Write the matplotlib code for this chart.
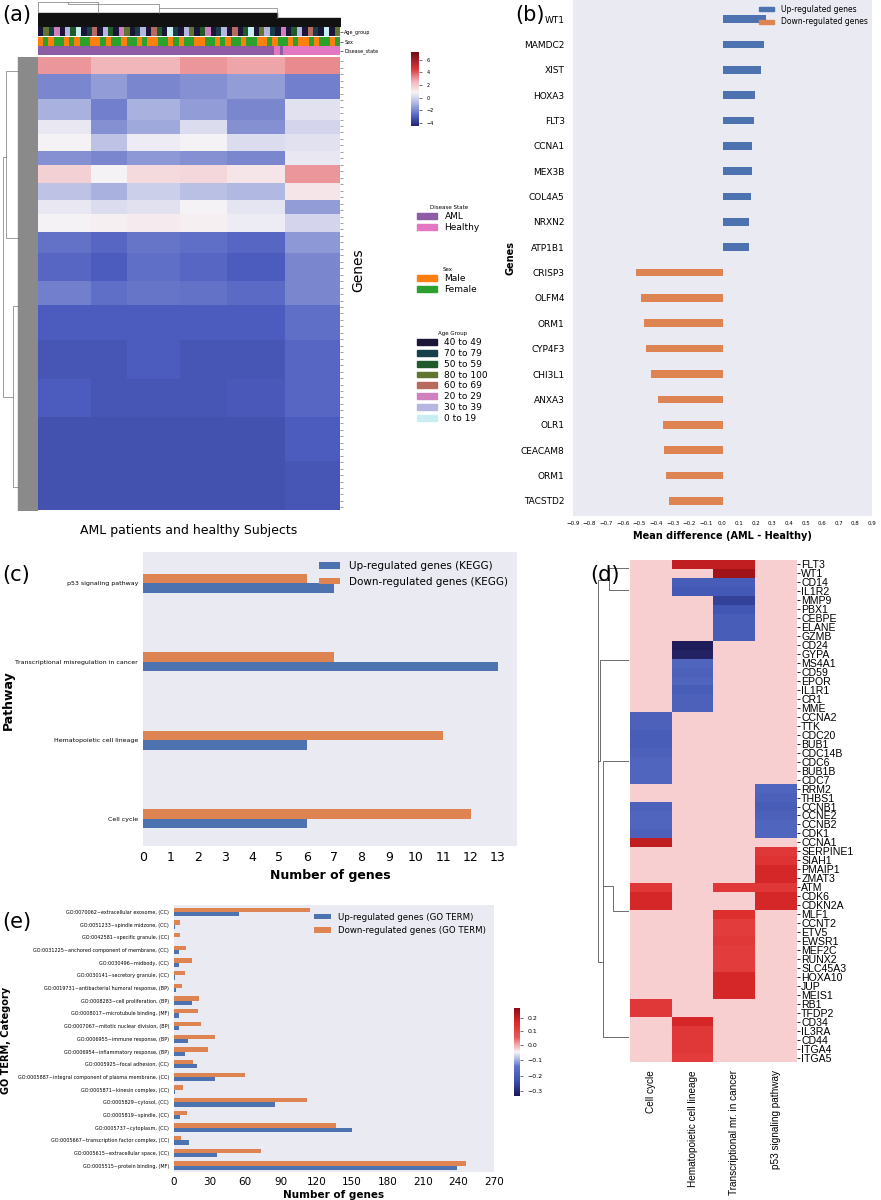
import numpy as np
import matplotlib
matplotlib.use("Agg")
import matplotlib.pyplot as plt
from matplotlib.colors import ListedColormap, TwoSlopeNorm, LinearSegmentedColormap, Normalize
from matplotlib.patches import Patch

W, H = 881, 1200
BLUE = "#4C72B0"
ORANGE = "#DD8452"
BG = "#EAEAF2"

# ----- panel (a) data: coarse block estimate of the clustered heatmap -----
# rows = gene bands (top -> bottom), cols = sample groups (5 AML groups, 1 healthy group)
a_blocks = [
    [3.0, 2.5, 2.5, 3.0, 2.8, 3.2],
    [-2.0, -1.5, -2.0, -1.8, -1.5, -2.2],
    [-1.0, -2.2, -1.0, -1.5, -2.0, 0.3],
    [0.5, -1.8, -1.2, 0.2, -1.8, 0.0],
    [0.8, -0.5, 0.6, 0.8, 0.2, 0.3],
    [-1.8, -2.0, -1.6, -1.8, -2.0, 0.5],
    [1.8, 0.8, 1.5, 1.6, 1.2, 3.0],
    [-0.5, -1.0, -0.2, -0.6, -0.8, 1.2],
    [0.5, 0.2, 0.3, 0.8, 0.4, -1.5],
    [0.8, 0.9, 1.0, 0.9, 0.6, 0.0],
    [-2.5, -2.8, -2.4, -2.6, -2.8, -1.6],
    [-2.8, -3.0, -2.6, -2.8, -3.0, -2.0],
    [-2.2, -2.6, -2.4, -2.5, -2.7, -2.0],
    [-3.0, -3.0, -3.0, -3.0, -3.0, -2.6],
    [-3.2, -3.2, -3.0, -3.2, -3.2, -2.8],
    [-3.0, -3.2, -3.2, -3.2, -3.1, -2.8],
    [-3.3, -3.3, -3.3, -3.3, -3.3, -3.0],
    [-3.3, -3.3, -3.3, -3.3, -3.3, -3.2],
]
a_band_heights = [10, 14, 12, 8, 10, 8, 10, 10, 8, 10, 12, 16, 14, 20, 22, 22, 25, 28]
a_group_widths = [20, 14, 20, 18, 22, 21]

sex_pattern = list("MFMFFMFMFFMMFMFFMFFMFMMFFMFMFFMMFFMFMFFMFFMMFMFFMFMMFMFFMF")
age_pattern = [0, 3, 1, 5, 0, 6, 2, 7, 0, 1, 4, 0, 6, 2, 0, 5, 3, 0, 1, 6, 0, 4, 2, 0, 7, 1, 0, 6,
               3, 0, 2, 5, 0, 1, 6, 0, 4, 0, 2, 7, 0, 3, 6, 1, 0, 5, 0, 2, 6, 0, 4, 1, 0, 7, 0, 3]
disease_pattern = [0] * 78 + [1, 1, 0, 1, 1, 1, 1, 1, 1, 1, 1, 1, 1, 1, 1, 1, 1, 1, 1, 1, 1, 1]

age_labels = ["40 to 49", "70 to 79", "50 to 59", "80 to 100", "60 to 69", "20 to 29", "30 to 39", "0 to 19"]
age_colors = ["#1b1538", "#173f4a", "#1e5a2a", "#5f7530", "#b86a5e", "#cf80bf", "#b5b7e0", "#c8eef2"]
sex_labels = ["Male", "Female"]
sex_colors = ["#FF7F0E", "#2CA02C"]
disease_labels = ["AML", "Healthy"]
disease_colors = ["#8E5BA6", "#E377C2"]

# ----- panel (b) data -----
b_genes = ["WT1", "MAMDC2", "XIST", "HOXA3", "FLT3", "CCNA1", "MEX3B", "COL4A5", "NRXN2", "ATP1B1",
           "CRISP3", "OLFM4", "ORM1", "CYP4F3", "CHI3L1", "ANXA3", "OLR1", "CEACAM8", "ORM1", "TACSTD2"]
b_values = [0.26, 0.25, 0.23, 0.195, 0.19, 0.18, 0.175, 0.17, 0.16, 0.16,
            -0.52, -0.49, -0.47, -0.46, -0.43, -0.39, -0.36, -0.35, -0.34, -0.32]

# ----- panel (c) data -----
c_pathways = ["Cell cycle", "Hematopoietic cell lineage", "Transcriptional misregulation in cancer", "p53 signaling pathway"]
c_up = [6, 6, 13, 7]
c_down = [12, 11, 7, 6]

# ----- panel (d) data -----
d_genes = ["FLT3", "WT1", "CD14", "IL1R2", "MMP9", "PBX1", "CEBPE", "ELANE", "GZMB", "CD24", "GYPA",
           "MS4A1", "CD59", "EPOR", "IL1R1", "CR1", "MME", "CCNA2", "TTK", "CDC20", "BUB1", "CDC14B",
           "CDC6", "BUB1B", "CDC7", "RRM2", "THBS1", "CCNB1", "CCNE2", "CCNB2", "CDK1", "CCNA1",
           "SERPINE1", "SIAH1", "PMAIP1", "ZMAT3", "ATM", "CDK6", "CDKN2A", "MLF1", "CCNT2", "ETV5",
           "EWSR1", "MEF2C", "RUNX2", "SLC45A3", "HOXA10", "JUP", "MEIS1", "RB1", "TFDP2", "CD34",
           "IL3RA", "CD44", "ITGA4", "ITGA5"]
d_pathways = ["Cell cycle", "Hematopoietic cell lineage", "Transcriptional mr. in cancer", "p53 signaling pathway"]
# values per gene: (cell cycle, hematopoietic, transcriptional, p53); None = not in pathway
d_values = {
    "FLT3": (None, 0.2, 0.2, None), "WT1": (None, None, 0.24, None),
    "CD14": (None, -0.2, -0.2, None), "IL1R2": (None, -0.21, -0.21, None),
    "MMP9": (None, None, -0.26, None), "PBX1": (None, None, -0.22, None),
    "CEBPE": (None, None, -0.2, None), "ELANE": (None, None, -0.2, None),
    "GZMB": (None, None, -0.2, None), "CD24": (None, -0.32, None, None),
    "GYPA": (None, -0.31, None, None), "MS4A1": (None, -0.18, None, None),
    "CD59": (None, -0.19, None, None), "EPOR": (None, -0.18, None, None),
    "IL1R1": (None, -0.2, None, None), "CR1": (None, -0.19, None, None),
    "MME": (None, -0.19, None, None), "CCNA2": (-0.19, None, None, None),
    "TTK": (-0.19, None, None, None), "CDC20": (-0.2, None, None, None),
    "BUB1": (-0.2, None, None, None), "CDC14B": (-0.19, None, None, None),
    "CDC6": (-0.18, None, None, None), "BUB1B": (-0.18, None, None, None),
    "CDC7": (-0.18, None, None, None), "RRM2": (None, None, None, -0.18),
    "THBS1": (None, None, None, -0.19), "CCNB1": (-0.19, None, None, -0.2),
    "CCNE2": (-0.18, None, None, -0.19), "CCNB2": (-0.18, None, None, -0.18),
    "CDK1": (-0.19, None, None, -0.18), "CCNA1": (0.2, None, None, None),
    "SERPINE1": (None, None, None, 0.13), "SIAH1": (None, None, None, 0.14),
    "PMAIP1": (None, None, None, 0.17), "ZMAT3": (None, None, None, 0.17),
    "ATM": (0.13, None, 0.13, 0.13), "CDK6": (0.17, None, None, 0.17),
    "CDKN2A": (0.17, None, None, 0.17), "MLF1": (None, None, 0.15, None),
    "CCNT2": (None, None, 0.12, None), "ETV5": (None, None, 0.12, None),
    "EWSR1": (None, None, 0.13, None), "MEF2C": (None, None, 0.12, None),
    "RUNX2": (None, None, 0.12, None), "SLC45A3": (None, None, 0.12, None),
    "HOXA10": (None, None, 0.17, None), "JUP": (None, None, 0.17, None),
    "MEIS1": (None, None, 0.17, None), "RB1": (0.13, None, None, None),
    "TFDP2": (0.13, None, None, None), "CD34": (None, 0.17, None, None),
    "IL3RA": (None, 0.13, None, None), "CD44": (None, 0.13, None, None),
    "ITGA4": (None, 0.13, None, None), "ITGA5": (None, 0.12, None, None),
}

# ----- panel (e) data (bottom -> top) -----
e_terms = ["GO:0005515~protein binding, (MF)", "GO:0005615~extracellular space, (CC)",
           "GO:0005667~transcription factor complex, (CC)", "GO:0005737~cytoplasm, (CC)",
           "GO:0005819~spindle, (CC)", "GO:0005829~cytosol, (CC)", "GO:0005871~kinesin complex, (CC)",
           "GO:0005887~integral component of plasma membrane, (CC)", "GO:0005925~focal adhesion, (CC)",
           "GO:0006954~inflammatory response, (BP)", "GO:0006955~immune response, (BP)",
           "GO:0007067~mitotic nuclear division, (BP)", "GO:0008017~microtubule binding, (MF)",
           "GO:0008283~cell proliferation, (BP)", "GO:0019731~antibacterial humoral response, (BP)",
           "GO:0030141~secretory granule, (CC)", "GO:0030496~midbody, (CC)",
           "GO:0031225~anchored component of membrane, (CC)", "GO:0042581~specific granule, (CC)",
           "GO:0051233~spindle midzone, (CC)", "GO:0070062~extracellular exosome, (CC)"]
e_up = [239, 36, 13, 150, 5, 85, 0.5, 35, 19, 9, 12, 4, 4, 15, 2, 1, 4, 4, 0, 0.5, 55]
e_down = [246, 73, 6, 137, 11, 112, 8, 60, 16, 29, 35, 23, 20, 21, 7, 9, 15, 10, 5, 5, 115]

fig = plt.figure(figsize=(W / 100, H / 100), dpi=100)


def ax_px(x0, y0, x1, y1):
    return fig.add_axes([x0 / W, 1 - y1 / H, (x1 - x0) / W, (y1 - y0) / H])


def plabel(x, y, s):
    fig.text(x / W, 1 - y / H, s, fontsize=15, va="center", ha="left")


# ===== (a) =====
a_vmin, a_vmax = -4.5, 7.2
a_nodes = [(-4.5, "#1e2470"), (-3.0, "#4e5ec0"), (-1.0, "#aab2e0"), (0.8, "#f6f3f6"),
           (2.5, "#f2b8bc"), (4.5, "#d9383c"), (7.2, "#6e0b15")]
heat_cmap = LinearSegmentedColormap.from_list(
    "a", [((v - a_vmin) / (a_vmax - a_vmin), c) for v, c in a_nodes])
heat_norm = Normalize(vmin=a_vmin, vmax=a_vmax)
rows = np.repeat(np.arange(len(a_blocks)), a_band_heights)
cols = np.repeat(np.arange(len(a_group_widths)), a_group_widths)
a_mat = np.array(a_blocks)[rows][:, cols]
ax_a = ax_px(38, 57, 340, 510)
ax_a.imshow(a_mat, aspect="auto", cmap=heat_cmap, norm=heat_norm, interpolation="nearest")
ax_a.set_xticks([])
ax_a.yaxis.tick_right()
ax_a.set_yticks(np.linspace(2, a_mat.shape[0] - 2, 70))
ax_a.set_yticklabels([])
ax_a.tick_params(axis="y", length=2, width=0.4, color="#555")
for s in ax_a.spines.values():
    s.set_visible(False)
ax_a.set_xlabel("AML patients and healthy Subjects", fontsize=9, labelpad=10)
fig.text(358 / W, 1 - 270 / H, "Genes", rotation=90, fontsize=10, va="center", ha="center")

# column annotations
ann = [("Age_group", age_pattern, age_colors, 27, 36),
       ("Sex", [0 if s == "M" else 1 for s in sex_pattern], sex_colors, 37, 46),
       ("Disease_state", disease_pattern, disease_colors, 46, 55)]
for name, pattern, colors, y0, y1 in ann:
    axn = ax_px(38, y0, 340, y1)
    axn.imshow(np.array(pattern)[None, :], aspect="auto", cmap=ListedColormap(colors),
               vmin=-0.5, vmax=len(colors) - 0.5, interpolation="nearest")
    axn.set_xticks([])
    axn.set_yticks([0])
    axn.set_yticklabels([name], fontsize=3.5)
    axn.yaxis.tick_right()
    axn.tick_params(axis="y", length=2, width=0.4, pad=1)
    for s in axn.spines.values():
        s.set_visible(False)

# top dendrogram (schematic)
ax_td = ax_px(38, 2, 340, 26)
ax_td.fill_between([0, 0.79], [0, 0], [0.55, 0.55], color="#111")
ax_td.fill_between([0.79, 1.0], [0, 0], [0.35, 0.35], color="#111")
ax_td.plot([0.0, 0.0, 0.2, 0.2], [0.55, 1.0, 1.0, 0.55], color="#777", lw=0.5)
ax_td.plot([0.1, 0.1, 0.4, 0.4], [1.0, 0.92, 0.92, 0.55], color="#777", lw=0.5)
ax_td.plot([0.4, 0.4, 0.79, 0.79], [0.75, 0.75, 0.75, 0.35], color="#777", lw=0.5)
ax_td.set_xlim(0, 1)
ax_td.set_ylim(0, 1)
ax_td.axis("off")

# row dendrogram (schematic)
ax_rd = ax_px(2, 57, 37, 510)
ax_rd.fill_betweenx([0, 1], [0.45, 0.45], [1, 1], color="#8a8a8a")
ax_rd.plot([0.45, 0.1, 0.1, 0.45], [0.97, 0.97, 0.6, 0.6], color="#777", lw=0.5)
ax_rd.plot([0.1, 0.02, 0.02, 0.3, 0.3, 0.45], [0.78, 0.78, 0.25, 0.25, 0.45, 0.45], color="#777", lw=0.5)
ax_rd.plot([0.3, 0.3, 0.45], [0.25, 0.05, 0.05], color="#777", lw=0.5)
ax_rd.set_xlim(0, 1)
ax_rd.set_ylim(0, 1)
ax_rd.axis("off")

# colorbar (a)
ax_cb = ax_px(411, 52, 419, 126)
sm = plt.cm.ScalarMappable(cmap=heat_cmap, norm=heat_norm)
cb = fig.colorbar(sm, cax=ax_cb, ticks=[-4, -2, 0, 2, 4, 6])
cb.ax.tick_params(labelsize=3.5, length=2, width=0.4)
cb.outline.set_visible(False)

# legends (a)
leg_specs = [("Disease State", disease_labels, disease_colors, 200),
             ("Sex", sex_labels, sex_colors, 262),
             ("Age Group", age_labels, age_colors, 326)]
for title, labels, colors, ytop in leg_specs:
    handles = [Patch(color=c, label=l) for l, c in zip(labels, colors)]
    fig.legend(handles=handles, title=title, loc="upper left",
               bbox_to_anchor=(412 / W, 1 - ytop / H), frameon=False,
               fontsize=6.5, title_fontsize=4, handlelength=2.2, handleheight=0.6,
               labelspacing=0.2, borderpad=0.1)
plabel(2, 15, "(a)")

# ===== (b) =====
ax_b = ax_px(573, 0, 872, 516)
ax_b.set_facecolor(BG)
yb = np.arange(len(b_genes))
b_colors = [BLUE if v > 0 else ORANGE for v in b_values]
ax_b.barh(yb, b_values, height=0.3, color=b_colors)
ax_b.set_yticks(yb)
ax_b.set_yticklabels(b_genes, fontsize=6.5)
ax_b.set_ylim(len(b_genes) - 0.4, -0.75)
ax_b.set_xlim(-0.9, 0.9)
ax_b.set_xticks(np.round(np.arange(-0.9, 0.91, 0.1), 1))
ax_b.tick_params(axis="x", labelsize=4, length=0)
ax_b.tick_params(axis="y", length=0, pad=6)
for s in ax_b.spines.values():
    s.set_visible(False)
ax_b.set_xlabel("Mean difference (AML - Healthy)", fontsize=7, fontweight="bold")
ax_b.set_ylabel("Genes", fontsize=7, fontweight="bold")
ax_b.legend(handles=[Patch(color=BLUE, label="Up-regulated genes"),
                     Patch(color=ORANGE, label="Down-regulated genes")],
            loc="upper right", fontsize=5.5, frameon=False, handleheight=0.5, borderaxespad=0.2)
plabel(515, 15, "(b)")

# ===== (c) =====
ax_c = ax_px(143, 552, 517, 846)
ax_c.set_facecolor(BG)
yc = np.arange(len(c_pathways))
ax_c.barh(yc - 0.06, c_up, height=0.12, color=BLUE, label="Up-regulated genes (KEGG)")
ax_c.barh(yc + 0.06, c_down, height=0.12, color=ORANGE, label="Down-regulated genes (KEGG)")
ax_c.set_yticks(yc)
ax_c.set_yticklabels(c_pathways, fontsize=4.5)
ax_c.set_ylim(-0.35, 3.4)
ax_c.set_xlim(0, 13.7)
ax_c.set_xticks(range(14))
ax_c.tick_params(axis="x", labelsize=9, length=0)
ax_c.tick_params(axis="y", length=0)
for s in ax_c.spines.values():
    s.set_visible(False)
ax_c.set_xlabel("Number of genes", fontsize=9, fontweight="bold")
fig.text(8 / W, 1 - 700 / H, "Pathway", rotation=90, fontsize=9, fontweight="bold",
         va="center", ha="center")
ax_c.legend(loc="upper right", fontsize=7.5, frameon=False, handleheight=0.6)
plabel(2, 575, "(c)")

# ===== (d) =====
d_mat = np.array([[np.nan if v is None else v for v in d_values[g]] for g in d_genes], dtype=float)
d_cmap = LinearSegmentedColormap.from_list(
    "d", ["#1c1750", "#3b4fb0", "#5f74c6", "#f6f6fa", "#ea5a5c", "#dd2a2a", "#8e0a14"])
d_norm = TwoSlopeNorm(vmin=-0.33, vcenter=-0.05, vmax=0.27)
ax_d = ax_px(630, 560, 797, 1062)
ax_d.set_facecolor("#F8CFD0")
ax_d.imshow(d_mat, aspect="auto", cmap=d_cmap, norm=d_norm, interpolation="nearest")
ax_d.set_yticks(range(len(d_genes)))
ax_d.set_yticklabels(d_genes, fontsize=7.6, fontfamily="Liberation Sans")
ax_d.yaxis.tick_right()
ax_d.tick_params(axis="y", length=2, width=0.6, pad=1)
ax_d.set_xticks(range(len(d_pathways)))
ax_d.set_xticklabels(d_pathways, rotation=90, fontsize=7.2, fontfamily="Liberation Sans")
ax_d.tick_params(axis="x", length=0, pad=6)
for s in ax_d.spines.values():
    s.set_visible(False)

ax_dd = ax_px(596, 560, 629, 1062)
ax_dd.plot([1, 0.4, 0.4, 1], [0.985, 0.985, 0.94, 0.94], color="#555", lw=0.6)
ax_dd.plot([0.4, 0.05, 0.05, 0.2, 0.2, 1], [0.96, 0.96, 0.2, 0.2, 0.6, 0.6], color="#555", lw=0.6)
ax_dd.plot([0.2, 0.2, 1], [0.2, 0.05, 0.05], color="#555", lw=0.6)
ax_dd.plot([0.05, 0.12, 0.12, 1], [0.6, 0.6, 0.8, 0.8], color="#555", lw=0.6)
ax_dd.plot([0.2, 0.5, 0.5, 1], [0.35, 0.35, 0.3, 0.3], color="#555", lw=0.6)
ax_dd.set_xlim(0, 1)
ax_dd.set_ylim(0, 1)
ax_dd.axis("off")

ax_dcb = ax_px(514, 1008, 520, 1096)
smd = plt.cm.ScalarMappable(cmap=d_cmap, norm=d_norm)
cbd = fig.colorbar(smd, cax=ax_dcb, ticks=[-0.3, -0.2, -0.1, 0.0, 0.1, 0.2])
cbd.ax.tick_params(labelsize=4.5, length=2, width=0.4)
cbd.outline.set_visible(False)
plabel(590, 575, "(d)")

# ===== (e) =====
ax_e = ax_px(174, 905, 494, 1172)
ax_e.set_facecolor(BG)
ye = np.arange(len(e_terms))
ax_e.barh(ye - 0.17, e_up, height=0.34, color=BLUE, label="Up-regulated genes (GO TERM)")
ax_e.barh(ye + 0.17, e_down, height=0.34, color=ORANGE, label="Down-regulated genes (GO TERM)")
ax_e.set_yticks(ye)
ax_e.set_yticklabels(e_terms, fontsize=3.5)
ax_e.set_ylim(-0.5, len(e_terms) - 0.45)
ax_e.set_xlim(0, 270)
ax_e.set_xticks(range(0, 271, 30))
ax_e.tick_params(axis="x", labelsize=7.5, length=0)
ax_e.tick_params(axis="y", length=0)
for s in ax_e.spines.values():
    s.set_visible(False)
ax_e.set_xlabel("Number of genes", fontsize=7.5, fontweight="bold", labelpad=2)
fig.text(6 / W, 1 - 1040 / H, "GO TERM, Category", rotation=90, fontsize=7, fontweight="bold",
         va="center", ha="center")
ax_e.legend(loc="upper right", fontsize=6.2, frameon=False, handleheight=0.6)
plabel(2, 922, "(e)")

fig.savefig("out.png", dpi=100)
